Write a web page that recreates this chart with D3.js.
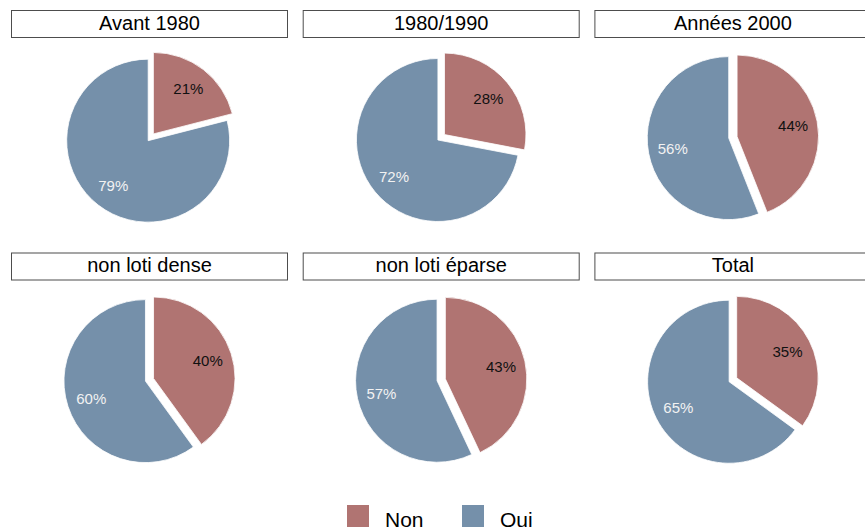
<!DOCTYPE html>
<html>
<head>
<meta charset="utf-8">
<script src="https://cdn.jsdelivr.net/npm/d3@7"></script>
<style>
  body { margin: 0; background: #fff; }
  svg { display: block; font-family: "Liberation Sans", Arial, Helvetica, sans-serif; }
</style>
</head>
<body>
<svg id="chart"></svg>
<script>
// data
let panels = ['Avant 1980', '1980/1990', 'Années 2000', 'non loti dense', 'non loti éparse', 'Total']
let nonValues = [21, 28, 44, 40, 43, 35]
let ouiValues = [79, 72, 56, 60, 57, 65]
let answers = ['Non', 'Oui']

let width = 865
let height = 529

let colors = d3.scaleOrdinal()
    .domain(answers)
    .range(['#b07472', '#7590aa'])
let labelColors = d3.scaleOrdinal()
    .domain(answers)
    .range(['#111111', '#f2f2f2'])

let svg = d3.select('#chart')
    .attr('width', width)
    .attr('height', height)

// facet layout
let stripX0 = 11.5
let stripStep = 291.7
let stripW = 276
let stripH = 27
let rowTops = [10.5, 253]

let radius = 81.5
let explode = 8.5
let labelR = 57

let pie = d3.pie().sort(null).value((d) => d.value)
let arc = d3.arc().innerRadius(0).outerRadius(radius)

panels.forEach((name, i) => {
    let col = i % 3
    let row = Math.floor(i / 3)
    let sx = stripX0 + col * stripStep
    let sy = rowTops[row]

    // strip header
    svg.append('rect')
        .attr('x', sx)
        .attr('y', sy)
        .attr('width', stripW)
        .attr('height', stripH)
        .attr('fill', '#fff')
        .attr('stroke', '#4d4d4d')
        .attr('stroke-width', 1)
    svg.append('text')
        .attr('x', sx + stripW / 2)
        .attr('y', sy + 19.3)
        .attr('text-anchor', 'middle')
        .attr('font-size', 20)
        .attr('fill', '#000')
        .text(name)

    let data = [
        { key: 'Non', value: nonValues[i] },
        { key: 'Oui', value: ouiValues[i] }
    ]
    let arcs = pie(data)

    let g = svg.append('g')
    let wedges = g.selectAll('path')
        .data(arcs)
        .enter()
        .append('path')
        .attr('d', arc)
        .attr('fill', (d) => colors(d.data.key))
        .attr('stroke', '#fff')
        .attr('stroke-width', 0.8)
        .attr('transform', (d) => {
            if (d.data.key !== 'Non') return null
            let mid = (d.startAngle + d.endAngle) / 2
            return `translate(${Math.sin(mid) * explode}, ${-Math.cos(mid) * explode})`
        })

    // centre the whole pie (with its exploded slice) under the strip
    let box = g.node().getBBox()
    let tx = sx + stripW / 2 - (box.x + box.width / 2)
    let ty = sy + 126.8 - (box.y + box.height / 2)
    g.attr('transform', `translate(${tx}, ${ty})`)

    g.selectAll('text')
        .data(arcs)
        .enter()
        .append('text')
        .attr('x', (d) => {
            let mid = (d.startAngle + d.endAngle) / 2
            let r = d.data.key === 'Non' ? labelR + explode : labelR
            return Math.sin(mid) * r
        })
        .attr('y', (d) => {
            let mid = (d.startAngle + d.endAngle) / 2
            let r = d.data.key === 'Non' ? labelR + explode : labelR
            return -Math.cos(mid) * r
        })
        .attr('dy', '0.36em')
        .attr('text-anchor', 'middle')
        .attr('font-size', 15)
        .attr('fill', (d) => labelColors(d.data.key))
        .text((d) => d.data.value + '%')
})

// legend
let legendX = [347, 462]
let legend = svg.append('g')
answers.forEach((a, i) => {
    legend.append('rect')
        .attr('x', legendX[i])
        .attr('y', 505)
        .attr('width', 22)
        .attr('height', 22)
        .attr('fill', colors(a))
    legend.append('text')
        .attr('x', legendX[i] + 38)
        .attr('y', 526.5)
        .attr('font-size', 21)
        .attr('fill', '#000')
        .text(a)
})
</script>
</body>
</html>
